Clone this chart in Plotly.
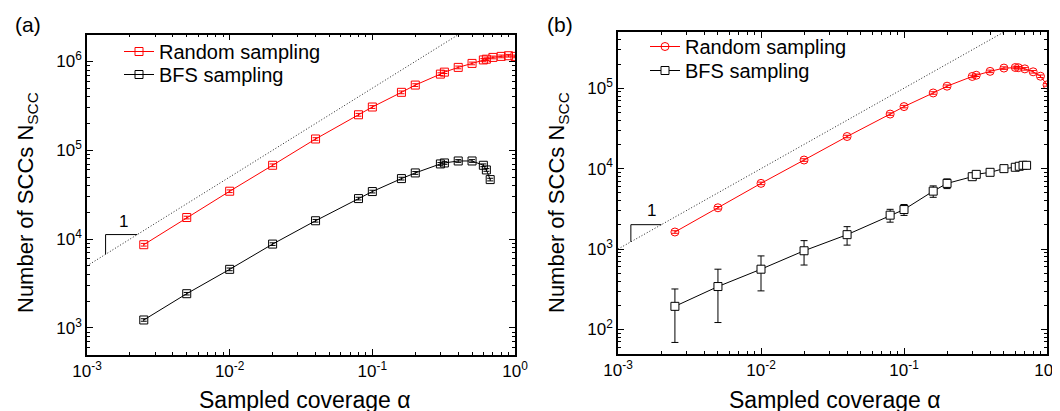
import plotly.graph_objects as go

# ---------------- data ----------------
# panel (a)
a_rand_x = [0.0025, 0.005, 0.01, 0.02, 0.04, 0.08, 0.1, 0.16, 0.2, 0.3, 0.32, 0.4, 0.5, 0.6, 0.63, 0.7, 0.8, 0.9, 1.0]
a_rand_y = [8650, 17500, 34600, 67800, 134000, 251000, 307000, 449000, 542000, 720000, 758000, 857000, 950000,
            1040000, 1060000, 1110000, 1140000, 1160000, 1140000]
a_rand_err = [300, 600, 1200, 2400, 4500, 9000, 11000, 16000, 19000, 25000, 27000, 30000, 33000,
              36000, 37000, 39000, 40000, 40000, 40000]

a_bfs_x = [0.0025, 0.005, 0.01, 0.02, 0.04, 0.08, 0.1, 0.16, 0.2, 0.3, 0.32, 0.4, 0.5, 0.6, 0.63, 0.67]
a_bfs_y = [1230, 2430, 4570, 8790, 16100, 28600, 34300, 48000, 55600, 70200, 72000, 75800, 75800, 67800, 60100, 46800]
a_bfs_err = [40, 80, 160, 300, 550, 1000, 1200, 1700, 2000, 2500, 2500, 2700, 2700, 2400, 2100, 1600]

# panel (b)
b_rand_x = [0.0025, 0.005, 0.01, 0.02, 0.04, 0.08, 0.1, 0.16, 0.2, 0.3, 0.32, 0.4, 0.5, 0.6, 0.63, 0.7, 0.8, 0.9, 1.0]
b_rand_y = [1630, 3260, 6560, 12800, 25100, 47700, 59100, 87300, 106000, 140000, 145000, 162000, 178000,
            181000, 180000, 174000, 160000, 141000, 110000]
b_rand_err = [60, 120, 240, 470, 900, 1700, 2100, 3100, 3800, 5000, 5200, 5800, 6400,
              6500, 6500, 6300, 5800, 5100, 4000]

b_bfs_x = [0.0025, 0.005, 0.01, 0.02, 0.04, 0.08, 0.1, 0.16, 0.2, 0.3, 0.32, 0.4, 0.5, 0.6, 0.64, 0.68, 0.72]
b_bfs_y = [194, 342, 562, 953, 1510, 2640, 3100, 5250, 6550, 7940, 8490, 9000, 10000, 10400, 10700, 11000, 11000]
b_bfs_err = [125, 220, 260, 320, 390, 480, 480, 850, 900, 400, 400, 350, 350, 400, 400, 400, 400]

# slope-1 guide lines (endpoints) and slope triangles
a_guide_x = [0.001, 0.4]
a_guide_y = [5000, 2000000]
b_guide_x = [0.001, 0.5]
b_guide_y = [1000, 500000]
a_tri_x = [0.00135, 0.00135, 0.00225]
a_tri_y = [6750, 11250, 11250]
b_tri_x = [0.00123, 0.00123, 0.00201]
b_tri_y = [1230, 2010, 2010]

# tick labels
x_tickvals = [0.001, 0.01, 0.1, 1]
x_ticktext = ["10<sup>-3</sup>", "10<sup>-2</sup>", "10<sup>-1</sup>", "10<sup>0</sup>"]
a_y_tickvals = [1e3, 1e4, 1e5, 1e6]
a_y_ticktext = ["10<sup>3</sup>", "10<sup>4</sup>", "10<sup>5</sup>", "10<sup>6</sup>"]
b_y_tickvals = [1e2, 1e3, 1e4, 1e5]
b_y_ticktext = ["10<sup>2</sup>", "10<sup>3</sup>", "10<sup>4</sup>", "10<sup>5</sup>"]

RED = "#ff0000"
BLACK = "#000000"
FONT = "Liberation Sans, Arial, sans-serif"
W, H = 1060, 411


def minor_vals(lo, hi):
    vals = []
    for e in range(lo, hi):
        for m in range(2, 10):
            vals.append(m * 10 ** e)
    return vals


fig = go.Figure()


def series(x, y, err, color, symbol, name, xa, ya, legend, width, fill=None):
    fig.add_trace(go.Scatter(
        x=x, y=y, mode="lines+markers", name=name,
        line=dict(color=color, width=1),
        marker=dict(symbol=symbol, size=8, color=fill if fill else color,
                    line=dict(color=color, width=1)),
        error_y=dict(type="data", array=err, visible=True, color=color, thickness=1, width=width),
        xaxis=xa, yaxis=ya, legend=legend,
    ))


def guide(x, y, xa, ya, dash, color):
    fig.add_trace(go.Scatter(x=x, y=y, mode="lines", line=dict(color=color, width=1, dash=dash),
                             showlegend=False, hoverinfo="skip", xaxis=xa, yaxis=ya))


guide(a_guide_x, a_guide_y, "x", "y", "1px,2px", "#222222")
guide(a_tri_x, a_tri_y, "x", "y", "solid", BLACK)
series(a_rand_x, a_rand_y, a_rand_err, RED, "square-open", "Random sampling", "x", "y", "legend", 3)
series(a_bfs_x, a_bfs_y, a_bfs_err, BLACK, "square-open", "BFS sampling", "x", "y", "legend2", 3)

guide(b_guide_x, b_guide_y, "x2", "y2", "1px,2px", "#222222")
guide(b_tri_x, b_tri_y, "x2", "y2", "solid", BLACK)
series(b_rand_x, b_rand_y, b_rand_err, RED, "circle-open", "Random sampling", "x2", "y2", "legend3", 3)
series(b_bfs_x, b_bfs_y, b_bfs_err, BLACK, "square", "BFS sampling", "x2", "y2", "legend4", 3.5, fill="white")

axis_common = dict(
    type="log", showgrid=False, zeroline=False, showline=True, linecolor=BLACK, linewidth=1.5,
    mirror="allticks", ticks="inside", ticklen=6, tickwidth=1, tickcolor=BLACK,
    tickfont=dict(family=FONT, size=17, color=BLACK),
    minor=dict(ticks="inside", ticklen=3, tickwidth=1, tickcolor=BLACK, showgrid=False),
)


def leg(xpx, ypx):
    return dict(x=xpx / W, y=1 - ypx / H, xanchor="left", yanchor="top", bgcolor="rgba(0,0,0,0)",
                font=dict(family=FONT, size=20, color=BLACK))


fig.update_layout(
    width=W, height=H, margin=dict(l=0, r=0, t=0, b=0, autoexpand=False),
    paper_bgcolor="white", plot_bgcolor="white",
    font=dict(family=FONT, color=BLACK),
    xaxis=dict(axis_common, domain=[79 / W, 507 / W], range=[-3, 0], anchor="y",
               tickmode="array", tickvals=x_tickvals, ticktext=x_ticktext,
               minor=dict(axis_common["minor"], tickmode="array", tickvals=minor_vals(-3, 0))),
    yaxis=dict(axis_common, domain=[1 - 346.7 / H, 1 - 26.7 / H], range=[2.69897, 6.30103], anchor="x",
               tickmode="array", tickvals=a_y_tickvals, ticktext=a_y_ticktext,
               minor=dict(axis_common["minor"], tickmode="array", tickvals=minor_vals(2, 7))),
    xaxis2=dict(axis_common, domain=[610 / W, 1039 / W], range=[-3, 0], anchor="y2",
                tickmode="array", tickvals=x_tickvals, ticktext=x_ticktext,
                minor=dict(axis_common["minor"], tickmode="array", tickvals=minor_vals(-3, 0))),
    yaxis2=dict(axis_common, domain=[1 - 345.7 / H, 1 - 24 / H], range=[1.69897, 5.69897], anchor="x2",
                tickmode="array", tickvals=b_y_tickvals, ticktext=b_y_ticktext,
                minor=dict(axis_common["minor"], tickmode="array", tickvals=minor_vals(1, 6))),
    legend=leg(111, 24),
    legend2=leg(111, 47),
    legend3=leg(637, 19),
    legend4=leg(637, 43),
    showlegend=True,
)

ann = []
def text(s, x, y, size, angle=0):
    ann.append(dict(text=s, x=x / W, y=1 - y / H, xref="paper", yref="paper", showarrow=False,
                    xanchor="center", yanchor="middle", textangle=angle,
                    font=dict(family=FONT, size=size, color=BLACK)))

text("(a)", 20, 17, 21)
text("(b)", 552, 17, 21)
text("Sampled coverage α", 296, 392, 23)
text("Sampled coverage α", 826, 392, 23)
text("Number of SCCs N<sub>SCC</sub>", 19, 195, 22, -90)
text("Number of SCCs N<sub>SCC</sub>", 550, 195, 22, -90)
text("1", 115, 213, 17)
text("1", 643, 202, 17)
fig.update_layout(annotations=ann)

fig.write_html("out.html")
